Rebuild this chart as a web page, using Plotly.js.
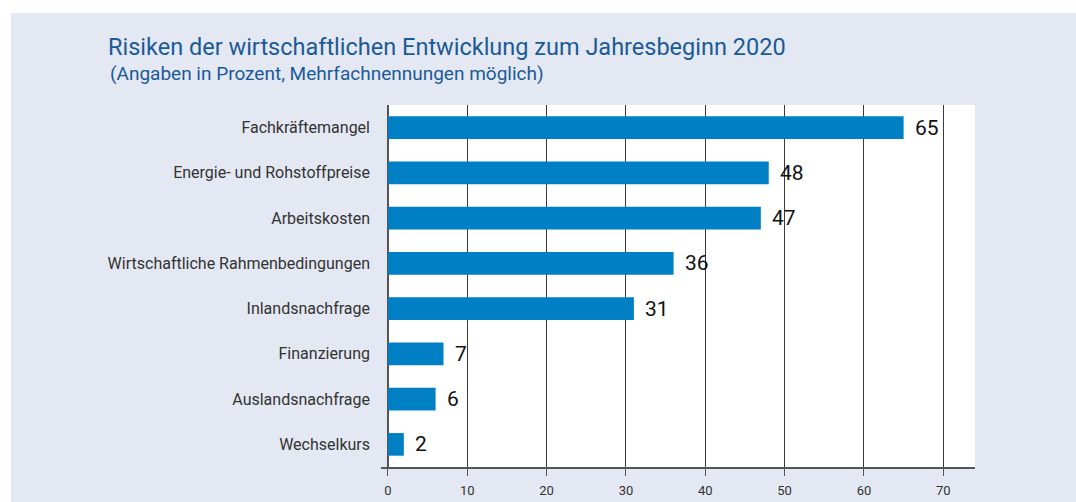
<!DOCTYPE html>
<html>
<head>
<meta charset="utf-8">
<script src="https://cdn.plot.ly/plotly-3.0.1.min.js"></script>
<style>
html,body{margin:0;padding:0;background:#ffffff;width:1076px;height:502px;overflow:hidden;}
#chart{position:absolute;left:11px;top:13px;width:1065px;height:489px;}
</style>
</head>
<body>
<div id="chart"></div>
<script>
const categories = [
  "Fachkräftemangel",
  "Energie- und Rohstoffpreise",
  "Arbeitskosten",
  "Wirtschaftliche Rahmenbedingungen",
  "Inlandsnachfrage",
  "Finanzierung",
  "Auslandsnachfrage",
  "Wechselkurs"
];
const values = [65, 48, 47, 36, 31, 7, 6, 2];
const tickVals = [0, 10, 20, 30, 40, 50, 60, 70];
const titleText = "Risiken der wirtschaftlichen Entwicklung zum Jahresbeginn 2020";
const subtitleText = "(Angaben in Prozent, Mehrfachnennungen möglich)";

const bg = "#e3e8f2";
const font = "Roboto, 'Open Sans', sans-serif";
const xMin = -0.88, xMax = 74.0;

const trace = {
  type: "bar",
  orientation: "h",
  y: categories,
  x: values,
  marker: {color: "#0080c4", line: {width: 0}},
  width: 0.5,
  hoverinfo: "skip"
};

const valueLabels = values.map((v, i) => ({
  x: v, y: categories[i], xref: "x", yref: "y",
  text: String(v), showarrow: false,
  xanchor: "left", yanchor: "middle", xshift: 9,
  font: {family: font, size: 21, color: "#111111"}
}));

const layout = {
  width: 1065,
  height: 489,
  paper_bgcolor: bg,
  plot_bgcolor: bg,
  margin: {l: 370, r: 101, t: 92, b: 35},
  showlegend: false,
  title: {
    text: titleText,
    font: {family: font, size: 23.5, color: "#1b5a98"},
    x: 97/1065, xanchor: "left", xref: "container",
    y: 1 - 34/489, yanchor: "middle", yref: "container"
  },
  annotations: [{
    text: subtitleText,
    xref: "paper", yref: "paper",
    x: (97-370)/594, xanchor: "left",
    y: 1 + (92-60)/362, yanchor: "middle",
    showarrow: false,
    font: {family: font, size: 19, color: "#1b5a98"}
  }].concat(valueLabels),
  shapes: [{
    type: "rect", xref: "x", yref: "paper",
    x0: 0, x1: xMax, y0: 0, y1: 1,
    fillcolor: "#ffffff", line: {width: 0}, layer: "below"
  }],
  xaxis: {
    range: [xMin, xMax],
    tickvals: tickVals,
    ticktext: tickVals.map(String),
    showgrid: true, gridcolor: "#3a3a3a", gridwidth: 1,
    zeroline: true, zerolinecolor: "#555555", zerolinewidth: 1.5,
    showline: true, linecolor: "#555555", linewidth: 1.5,
    ticks: "outside", ticklen: 7, tickcolor: "#555555", tickwidth: 1,
    tickfont: {family: font, size: 13, color: "#333333"},
    ticklabelstandoff: 4,
    fixedrange: true
  },
  yaxis: {
    type: "category",
    autorange: "reversed",
    showgrid: false, zeroline: false, showline: false,
    ticks: "",
    tickfont: {family: font, size: 16, color: "#333333"},
    ticklabelstandoff: 10,
    fixedrange: true
  },
  bargap: 0.5
};

Plotly.newPlot("chart", [trace], layout, {displayModeBar: false, staticPlot: true});
</script>
</body>
</html>
